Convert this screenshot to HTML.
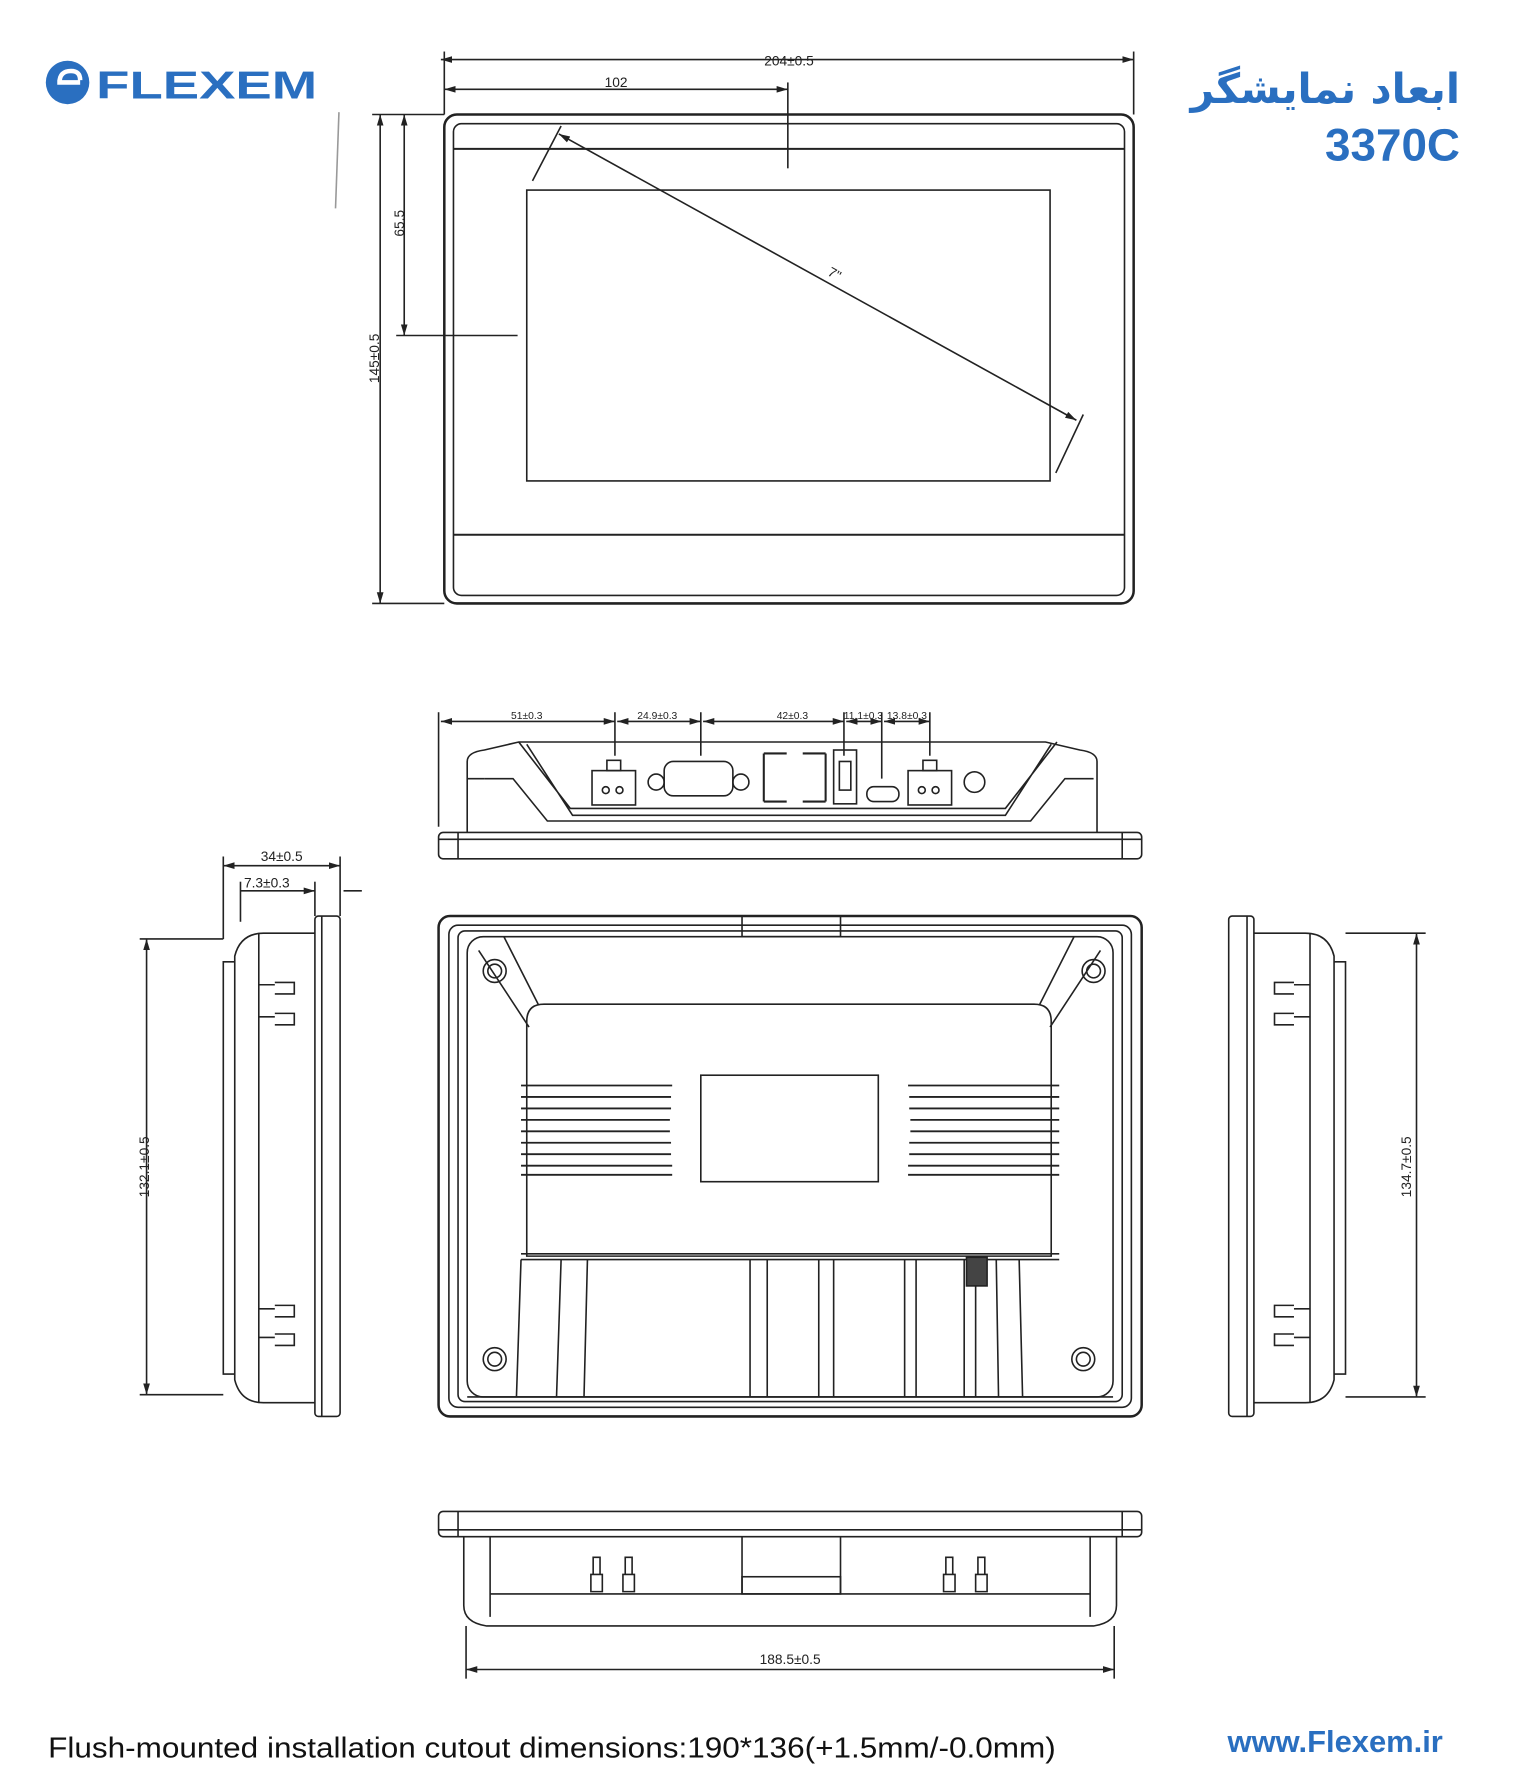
<!DOCTYPE html>
<html><head><meta charset="utf-8"><style>
html,body{margin:0;padding:0;background:#fff;width:1523px;height:1784px;overflow:hidden}
svg{display:block}
text{font-family:"Liberation Sans","Noto Sans CJK SC",sans-serif}
</style></head><body>
<svg width="1523" height="1784" viewBox="0 0 1330 1558" preserveAspectRatio="none" xmlns="http://www.w3.org/2000/svg">
<defs>
<marker id="a" viewBox="0 0 10 10" refX="10" refY="5" markerWidth="7" markerHeight="7" orient="auto-start-reverse"><path d="M0,2L10,5L0,8z" fill="#222"/></marker>
</defs>
<g fill="none" stroke="#222" stroke-width="1.4">
<!-- logo -->
<g stroke="none" fill="#2a6fc0">
<circle cx="59" cy="72" r="19"/>
<text x="84" y="86" font-size="34" font-weight="bold" textLength="193" lengthAdjust="spacingAndGlyphs">FLEXEM</text>
</g>
<path d="M50,72h20M52,72q0,-10 10,-10q8,0 8,8" stroke="#fff" stroke-width="4"/>
<!-- front view -->
<rect x="388" y="100" width="602" height="427" rx="11" stroke-width="2.2"/>
<rect x="396" y="108" width="586" height="412" rx="7"/>
<line x1="396" y1="130" x2="982" y2="130" stroke-width="1.8"/>
<line x1="396" y1="467" x2="982" y2="467" stroke-width="1.8"/>
<rect x="460" y="166" width="457" height="254"/>
<line x1="488" y1="117" x2="940" y2="367" marker-start="url(#a)" marker-end="url(#a)"/>
<line x1="490" y1="110" x2="465" y2="158"/><line x1="946" y1="362" x2="922" y2="413"/>
<line x1="385" y1="52" x2="990" y2="52" marker-start="url(#a)" marker-end="url(#a)"/>
<line x1="388" y1="45" x2="388" y2="100"/><line x1="990" y1="45" x2="990" y2="100"/>
<line x1="388" y1="78" x2="688" y2="78" marker-start="url(#a)" marker-end="url(#a)"/>
<line x1="688" y1="72" x2="688" y2="147"/>
<line x1="332" y1="100" x2="332" y2="527" marker-start="url(#a)" marker-end="url(#a)"/>
<line x1="353" y1="100" x2="353" y2="293" marker-start="url(#a)" marker-end="url(#a)"/>
<line x1="325" y1="100" x2="388" y2="100"/><line x1="325" y1="527" x2="388" y2="527"/>
<line x1="346" y1="293" x2="452" y2="293"/>
<line x1="296" y1="98" x2="293" y2="182" stroke="#999"/>
<!-- top connector view -->
<line x1="383" y1="622" x2="383" y2="722"/>
<line x1="385" y1="630" x2="537" y2="630" marker-start="url(#a)" marker-end="url(#a)"/>
<line x1="539" y1="630" x2="612" y2="630" marker-start="url(#a)" marker-end="url(#a)"/>
<line x1="614" y1="630" x2="737" y2="630" marker-start="url(#a)" marker-end="url(#a)"/>
<line x1="739" y1="630" x2="770" y2="630" marker-start="url(#a)" marker-end="url(#a)"/>
<line x1="772" y1="630" x2="812" y2="630" marker-start="url(#a)" marker-end="url(#a)"/>
<line x1="537" y1="622" x2="537" y2="660"/><line x1="612" y1="622" x2="612" y2="660"/><line x1="737" y1="622" x2="737" y2="660"/><line x1="770" y1="622" x2="770" y2="680"/><line x1="812" y1="622" x2="812" y2="660"/>
<rect x="383" y="727" width="614" height="23" rx="4"/>
<line x1="400" y1="727" x2="400" y2="750"/><line x1="980" y1="727" x2="980" y2="750"/>
<line x1="383" y1="733" x2="997" y2="733"/>
<path d="M408,727V665q0,-8 15,-10l30,-7h460l30,7q15,2 15,10v62"/>
<path d="M453,648l45,58h380l45,-58M460,650l40,62h378l40,-62"/>
<path d="M423,680l25,0 30,37h422l30,-37h25"/>
<line x1="408" y1="680" x2="423" y2="680"/>
<rect x="517" y="673" width="38" height="30"/><rect x="530" y="664" width="12" height="9"/>
<circle cx="529" cy="690" r="3"/><circle cx="541" cy="690" r="3"/>
<rect x="580" y="665" width="60" height="30" rx="8"/><circle cx="573" cy="683" r="7"/><circle cx="647" cy="683" r="7"/>
<path d="M667,658h20M701,658h20M667,700h20M701,700h20M667,658v42M721,658v42" stroke-width="1.8"/>
<rect x="728" y="655" width="20" height="47"/><rect x="733" y="665" width="10" height="25"/>
<rect x="757" y="687" width="28" height="13" rx="6"/>
<rect x="793" y="673" width="38" height="30"/><rect x="806" y="664" width="12" height="9"/>
<circle cx="805" cy="690" r="3"/><circle cx="817" cy="690" r="3"/>
<circle cx="851" cy="683" r="9"/>
<!-- back view -->
<rect x="383" y="800" width="614" height="437" rx="10" stroke-width="2.2"/>
<rect x="392" y="808" width="596" height="421" rx="8"/>
<rect x="400" y="813" width="580" height="411" rx="6"/>
<rect x="408" y="818" width="564" height="402" rx="14"/>
<rect x="648" y="800" width="86" height="18"/>
<path d="M460,897v-5q0,-15 15,-15h428q15,0 15,15v205h-458z"/>
<path d="M418,830l44,67M440,818l30,59M961,830l-44,67M938,818l-30,59"/>
<g>
<circle cx="432" cy="848" r="10"/><circle cx="432" cy="848" r="6"/>
<circle cx="955" cy="848" r="10"/><circle cx="955" cy="848" r="6"/>
<circle cx="432" cy="1187" r="10"/><circle cx="432" cy="1187" r="6"/>
<circle cx="946" cy="1187" r="10"/><circle cx="946" cy="1187" r="6"/>
</g>
<g stroke-width="1.6">
<path d="M455,948h132M455,958h131M455,968h131M455,978h130M455,988h130M455,998h131M455,1008h131M455,1018h132M455,1026h132"/>
<path d="M793,948h132M794,958h131M794,968h131M795,978h130M795,988h130M794,998h131M794,1008h131M793,1018h132M793,1026h132"/>
</g>
<rect x="612" y="939" width="155" height="93"/>
<path d="M455,1095h470M455,1100h470"/>
<path d="M455,1100l-4,120M490,1100l-4,120M513,1100l-3,120M655,1100v120M670,1100v120M715,1100v120M728,1100v120M790,1100v120M800,1100v120M842,1100v120M852,1100v120M870,1100l2,120M890,1100l3,120"/>
<rect x="844" y="1098" width="18" height="25" fill="#444"/>
<line x1="408" y1="1220" x2="972" y2="1220"/>
<!-- left side view -->
<rect x="275" y="800" width="22" height="437" rx="3"/>
<line x1="281" y1="800" x2="281" y2="1237"/>
<path d="M275,815h-45q-20,0 -25,20v370q5,20 25,20h45"/>
<path d="M226,815v410M205,840h-10v360h10"/>
<path d="M240,858h17v10h-17M240,885h17v10h-17M240,1140h17v10h-17M240,1165h17v10h-17"/>
<path d="M226,860h14M226,888h14M226,1143h14M226,1168h14"/>
<line x1="195" y1="748" x2="195" y2="820"/><line x1="297" y1="748" x2="297" y2="800"/>
<line x1="195" y1="756" x2="297" y2="756" marker-start="url(#a)" marker-end="url(#a)"/>
<line x1="210" y1="770" x2="210" y2="805"/><line x1="275" y1="770" x2="275" y2="800"/>
<line x1="210" y1="778" x2="275" y2="778" marker-end="url(#a)"/>
<line x1="300" y1="778" x2="316" y2="778"/>
<line x1="128" y1="820" x2="128" y2="1218" marker-start="url(#a)" marker-end="url(#a)"/>
<line x1="122" y1="820" x2="195" y2="820"/><line x1="122" y1="1218" x2="195" y2="1218"/>
<!-- right side view -->
<rect x="1073" y="800" width="22" height="437" rx="3"/>
<line x1="1089" y1="800" x2="1089" y2="1237"/>
<path d="M1095,815h45q20,0 25,20v370q-5,20 -25,20h-45"/>
<path d="M1144,815v410M1165,840h10v360h-10"/>
<path d="M1130,858h-17v10h17M1130,885h-17v10h17M1130,1140h-17v10h17M1130,1165h-17v10h17"/>
<path d="M1144,860h-14M1144,888h-14M1144,1143h-14M1144,1168h-14"/>
<line x1="1237" y1="815" x2="1237" y2="1220" marker-start="url(#a)" marker-end="url(#a)"/>
<line x1="1175" y1="815" x2="1245" y2="815"/><line x1="1175" y1="1220" x2="1245" y2="1220"/>
<!-- bottom view -->
<rect x="383" y="1320" width="614" height="22" rx="4"/>
<line x1="400" y1="1320" x2="400" y2="1342"/><line x1="980" y1="1320" x2="980" y2="1342"/>
<line x1="383" y1="1336" x2="997" y2="1336"/>
<path d="M405,1342v60q0,15 20,18h530q20,-3 20,-18v-60"/>
<path d="M428,1342v70M952,1342v70M428,1392h524M648,1342v50M734,1342v50"/>
<rect x="648" y="1377" width="86" height="15"/>
<path d="M516,1375v15h10v-15zM518,1375v-15h6v15M544,1375v15h10v-15zM546,1375v-15h6v15M824,1375v15h10v-15zM826,1375v-15h6v15M852,1375v15h10v-15zM854,1375v-15h6v15"/>
<line x1="407" y1="1420" x2="407" y2="1466"/><line x1="973" y1="1420" x2="973" y2="1466"/>
<line x1="407" y1="1458" x2="973" y2="1458" marker-start="url(#a)" marker-end="url(#a)"/>
</g>
<g fill="#222" font-size="12">
<text x="689" y="57" text-anchor="middle">204±0.5</text>
<text x="538" y="76" text-anchor="middle">102</text>
<text x="722" y="240" transform="rotate(29 722 240)">7"</text>
<text transform="translate(353,195) rotate(-90)" text-anchor="middle">65.5</text>
<text transform="translate(331,313) rotate(-90)" text-anchor="middle">145±0.5</text>
<g font-size="9"><text x="460" y="628" text-anchor="middle">51±0.3</text><text x="574" y="628" text-anchor="middle">24.9±0.3</text><text x="692" y="628" text-anchor="middle">42±0.3</text><text x="754" y="628" text-anchor="middle">11.1±0.3</text><text x="792" y="628" text-anchor="middle">13.8±0.3</text></g>
<text x="246" y="752" text-anchor="middle">34±0.5</text>
<text x="233" y="775" text-anchor="middle">7.3±0.3</text>
<text transform="translate(130,1019) rotate(-90)" text-anchor="middle">132.1±0.5</text>
<text transform="translate(1232,1019) rotate(-90)" text-anchor="middle">134.7±0.5</text>
<text x="690" y="1453" text-anchor="middle">188.5±0.5</text>
<text x="42" y="1535" font-size="25" fill="#111" textLength="880" lengthAdjust="spacingAndGlyphs">Flush-mounted installation cutout dimensions:190*136(+1.5mm/-0.0mm)</text>
</g>
<g fill="#2a6fc0" font-weight="bold">
<text x="1275" y="90" font-size="36" text-anchor="end" style="font-family:'DejaVu Sans',sans-serif">ابعاد نمایشگر</text>
<text x="1275" y="140" font-size="40" text-anchor="end">3370C</text>
<text x="1260" y="1530" font-size="27" text-anchor="end">www.Flexem.ir</text>
</g>
</svg>
</body></html>
